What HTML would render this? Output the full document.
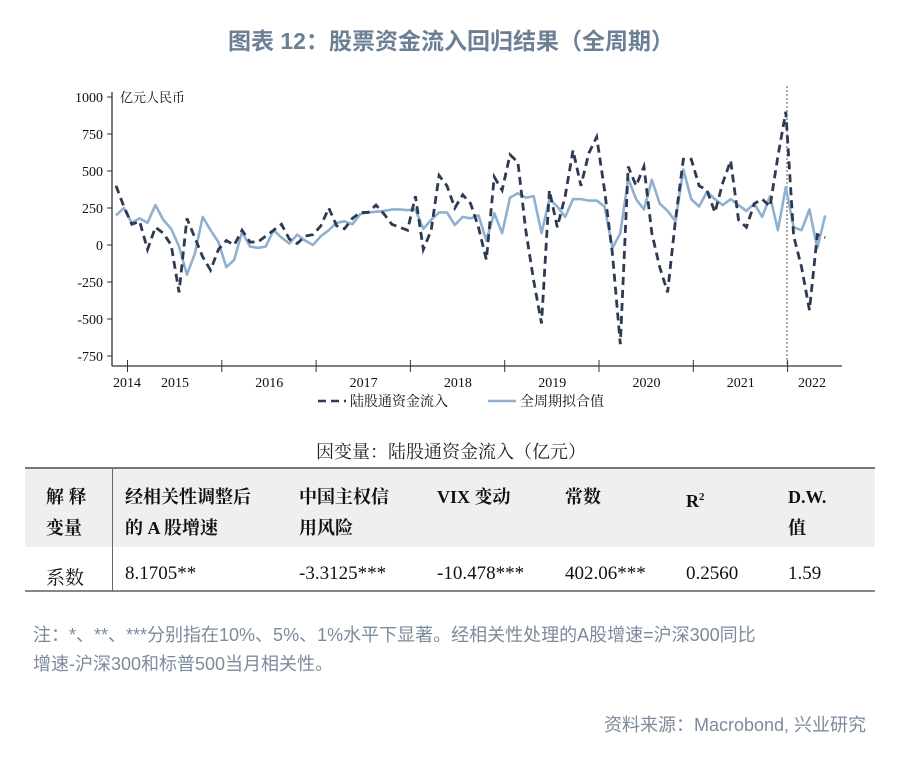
<!DOCTYPE html>
<html><head><meta charset="utf-8">
<style>
body{margin:0;background:#fff;}
#wrap{position:relative;width:902px;height:757px;overflow:hidden;font-family:"Liberation Serif","Noto Serif CJK SC",serif;}
.abs{position:absolute;white-space:nowrap;}
</style></head>
<body>
<div id="wrap">
<div class="abs" style="left:0;width:902px;top:22px;text-align:center;font-family:'Liberation Sans','Noto Sans CJK SC',sans-serif;font-size:23px;color:#6c7f95;font-weight:bold;">图表 12：股票资金流入回归结果（全周期）</div>
<svg id="chart" width="902" height="420" style="position:absolute;left:0;top:0" font-family="Liberation Serif, Noto Serif CJK SC, serif"></svg>

<div class="abs" style="left:0;width:902px;top:438px;text-align:center;font-size:18px;color:#222;">因变量：陆股通资金流入（亿元）</div>
<div class="abs" style="left:25px;top:467px;width:850px;height:78px;background:#efefef;border-top:2px solid #777;"></div>
<div class="abs" style="left:25px;top:590px;width:850px;height:2px;background:#888;"></div>
<div class="abs" style="left:112px;top:469px;width:1px;height:122px;background:#666;"></div>
<div style="position:absolute;left:0;top:0;font-size:18px;font-weight:bold;color:#111;line-height:31px;">
<div class="abs" style="left:46px;top:482px;">解 释<br>变量</div>
<div class="abs" style="left:125px;top:482px;">经相关性调整后<br>的 A 股增速</div>
<div class="abs" style="left:299px;top:482px;">中国主权信<br>用风险</div>
<div class="abs" style="left:437px;top:482px;">VIX 变动</div>
<div class="abs" style="left:565px;top:482px;">常数</div>
<div class="abs" style="left:686px;top:482px;">R<sup style="font-size:11px">2</sup></div>
<div class="abs" style="left:788px;top:482px;">D.W.<br>值</div>
</div>
<div style="position:absolute;left:0;top:0;font-size:19px;color:#111;">
<div class="abs" style="left:46px;top:563px;">系数</div>
<div class="abs" style="left:125px;top:563px;">8.1705**</div>
<div class="abs" style="left:299px;top:563px;">-3.3125***</div>
<div class="abs" style="left:437px;top:563px;">-10.478***</div>
<div class="abs" style="left:565px;top:563px;">402.06***</div>
<div class="abs" style="left:686px;top:563px;">0.2560</div>
<div class="abs" style="left:788px;top:563px;">1.59</div>
</div>
<div class="abs" style="left:33px;top:621px;font-family:'Liberation Sans','Noto Sans CJK SC',sans-serif;font-size:18px;line-height:29px;color:#7b8b9d;">注：*、**、***分别指在10%、5%、1%水平下显著。经相关性处理的A股增速=沪深300同比<br>增速-沪深300和标普500当月相关性。</div>
<div class="abs" style="left:604px;top:711px;font-family:'Liberation Sans','Noto Sans CJK SC',sans-serif;font-size:18px;color:#7b8b9d;">资料来源：Macrobond, 兴业研究</div>
</div>
<script>
const yTicks=[1000,750,500,250,0,-250,-500,-750];
const yearLabels=["2014","2015","2016","2017","2018","2019","2020","2021","2022"];
const flowValues=[400,260,140,160,-30,120,80,0,-320,180,50,-80,-170,-30,30,0,100,20,20,60,100,140,40,10,60,70,130,250,130,110,180,220,220,270,210,140,120,100,330,-30,100,470,400,250,340,280,120,-100,460,370,610,560,100,-240,-530,370,120,330,640,400,620,730,370,-60,-670,530,400,530,80,-150,-320,170,580,580,400,370,220,420,570,170,120,280,310,260,600,900,60,-150,-440,70,50];
const fitValues=[200,250,150,180,150,270,170,110,-10,-200,-60,190,100,20,-150,-100,90,-10,-20,-10,100,50,10,70,30,0,60,100,150,160,140,210,220,225,230,240,240,235,240,110,170,220,220,135,190,180,200,30,215,80,320,350,320,330,80,310,260,190,310,310,300,300,260,-20,80,450,310,240,440,280,230,160,510,310,260,360,310,270,310,270,230,280,190,330,100,390,120,100,240,-20,200];
const svg=document.getElementById('chart');
const NS='http://www.w3.org/2000/svg';
const x0=116,step=7.88,zeroY=245,scale=0.148;
const X=i=>x0+i*step;
const Y=v=>zeroY-v*scale;
function mk(t,a){const e=document.createElementNS(NS,t);for(const k in a)e.setAttribute(k,a[k]);svg.appendChild(e);return e;}
let e;
e=mk('line',{x1:112,y1:92,x2:112,y2:366,stroke:'#333','stroke-width':1.3});


e=mk('line',{x1:112,y1:366,x2:842,y2:366,stroke:'#333','stroke-width':1.3});


yTicks.forEach(v=>{
 const t=mk('line',{x1:107,x2:112,y1:Y(v),y2:Y(v),stroke:'#333'});
 
 
 const l=mk('text',{x:103,y:Y(v)+5,'text-anchor':'end','font-size':14,fill:'#111'});l.textContent=v;
 
 
});
e=mk('text',{x:120,y:102,'font-size':13,fill:'#111'});e.textContent='亿元人民币';


for(let k=0;k<8;k++){
 const tx=127.5+k*94.3;
 const t=mk('line',{x1:tx,x2:tx,y1:360,y2:372,stroke:'#333'});
 
 
}
yearLabels.forEach((y,k)=>{
 const lx=k==0?127:(k==8?812:175+(k-1)*94.3);
 const l=mk('text',{x:lx,y:387,'text-anchor':'middle','font-size':14,fill:'#111'});l.textContent=y;
 
 
});
e=mk('line',{x1:787,x2:787,y1:86,y2:366,stroke:'#555','stroke-dasharray':'2,2','stroke-width':1});


e=mk('polyline',{points:fitValues.map((v,i)=>X(i)+','+Y(v)).join(' '),fill:'none',stroke:'#8fb1cf','stroke-width':2.6,'stroke-linejoin':'round'});


e=mk('polyline',{points:flowValues.map((v,i)=>X(i)+','+Y(v)).join(' '),fill:'none',stroke:'#2e3a54','stroke-width':2.8,'stroke-dasharray':'8,5'});


e=mk('line',{x1:318,x2:346,y1:401,y2:401,stroke:'#2e3a54','stroke-width':2.6,'stroke-dasharray':'8,5'});


e=mk('text',{x:350,y:406,'font-size':14,fill:'#111'});e.textContent='陆股通资金流入';


e=mk('line',{x1:488,x2:516,y1:401,y2:401,stroke:'#8fb1cf','stroke-width':2.6});


e=mk('text',{x:520,y:406,'font-size':14,fill:'#111'});e.textContent='全周期拟合值';


</script>
</body></html>
